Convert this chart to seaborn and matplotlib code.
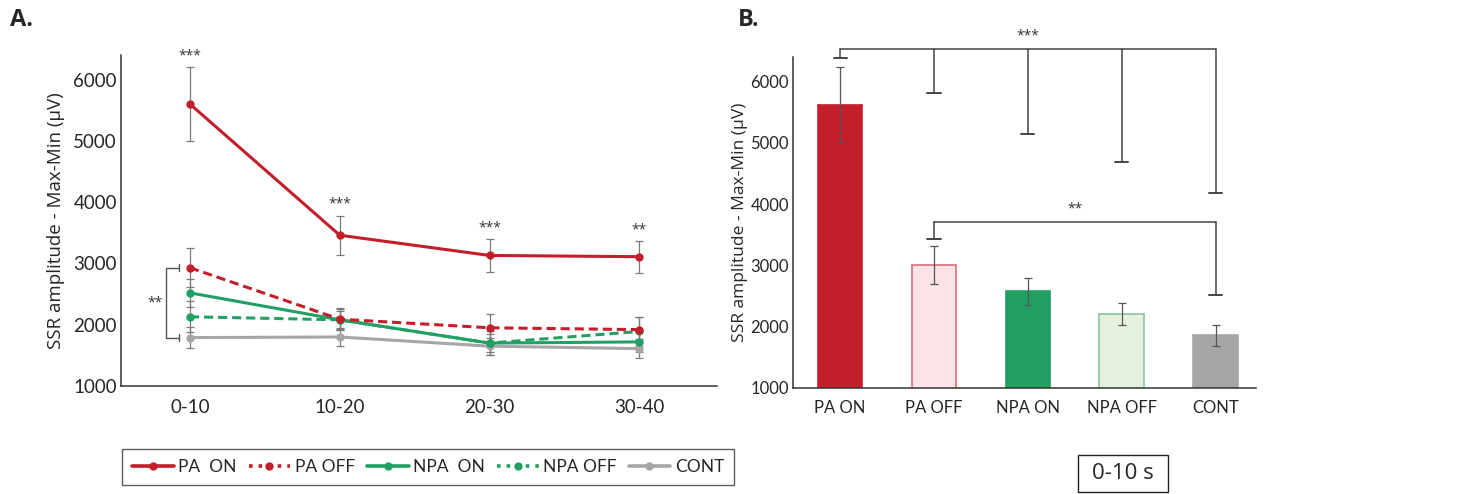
import matplotlib
matplotlib.use("Agg")
from matplotlib import pyplot as plt
from matplotlib.lines import Line2D
from matplotlib.patches import Rectangle
import seaborn as sns
import pandas as pd
import numpy as np

# time windows (s) and groups
windows = ["0-10", "10-20", "20-30", "30-40"]
groups = ["PA ON", "PA OFF", "NPA ON", "NPA OFF", "CONT"]
legend_names = ["PA  ON", "PA OFF", "NPA  ON", "NPA OFF", "CONT"]

# panel A: mean SSR amplitude per window
pa_on = [5600, 3460, 3130, 3110]
pa_off = [2930, 2090, 1950, 1920]
npa_on = [2520, 2080, 1700, 1720]
npa_off = [2130, 2080, 1700, 1890]
cont = [1790, 1800, 1650, 1610]

pa_on_err = [600, 320, 270, 260]
pa_off_err = [320, 180, 230, 200]
npa_on_err = [230, 150, 150, 160]
npa_off_err = [250, 170, 200, 230]
cont_err = [170, 150, 140, 160]

stars_a = ["***", "***", "***", "**"]

# panel B: 0-10 s window
bar_means = [5620, 3000, 2580, 2210, 1860]
bar_err = [620, 310, 220, 180, 170]

red = "#c21f2a"
green = "#22a063"
grey = "#a6a6a6"
line_colors = {"PA ON": red, "PA OFF": red, "NPA ON": green, "NPA OFF": green, "CONT": grey}
bar_faces = {"PA ON": red, "PA OFF": "#fbe3e7", "NPA ON": green, "NPA OFF": "#e6f1dd", "CONT": grey}
bar_edges = {"PA ON": red, "PA OFF": "#d8707e", "NPA ON": green, "NPA OFF": "#86c7a0", "CONT": grey}

sns.set_style("white")
plt.rcParams['font.family'] = ['Open Sans', 'DejaVu Sans']
lato = ['Lato', 'DejaVu Sans']

fig = plt.figure(figsize=(14.58, 4.94), dpi=100)
ax1 = fig.add_axes([0.083, 0.2186, 0.409, 0.670])
ax2 = fig.add_axes([0.544, 0.2146, 0.3175, 0.670])

# ---------- panel A ----------
series = [pa_on, pa_off, npa_on, npa_off, cont]
errs = [pa_on_err, pa_off_err, npa_on_err, npa_off_err, cont_err]
df_a = pd.DataFrame({
    "window": windows * len(groups),
    "group": np.repeat(groups, len(windows)),
    "amp": np.concatenate(series),
})
dashes = {"PA ON": "", "PA OFF": (3, 1.6), "NPA ON": "", "NPA OFF": (3, 1.6), "CONT": ""}
sns.lineplot(data=df_a, x="window", y="amp", hue="group", style="group",
             hue_order=groups[::-1], style_order=groups[::-1],
             palette=line_colors, dashes=dashes, markers={g: "o" for g in groups},
             markersize=6, markeredgewidth=0, linewidth=2.2, sort=False,
             legend=False, ax=ax1)
for g, vals, e in zip(groups, series, errs):
    ax1.errorbar(range(len(windows)), vals, yerr=e, fmt="none", ecolor="#7a7a7a",
                 elinewidth=0.9, capsize=3, capthick=0.9, zorder=1)

for i, s in enumerate(stars_a):
    ax1.text(i, pa_on[i] + pa_on_err[i] + 60, s, ha="center", va="bottom",
             fontsize=10, color="#333333")

# bracket PA OFF vs CONT at 0-10
bx0, bx1 = -0.16, -0.07
ax1.plot([bx1, bx0, bx0, bx1], [pa_off[0], pa_off[0], cont[0], cont[0]],
         color="#555555", lw=1, clip_on=False)
ax1.plot([bx1, bx1], [pa_off[0] - 60, pa_off[0] + 60], color="#555555", lw=1)
ax1.plot([bx1, bx1], [cont[0] - 60, cont[0] + 60], color="#555555", lw=1)
ax1.text(-0.23, 2360, "**", ha="center", va="center", fontsize=10, color="#333333")

ax1.set_xlim(-0.46, 3.52)
ax1.set_ylim(1000, 6400)
ax1.set_yticks([1000, 2000, 3000, 4000, 5000, 6000])
ax1.set_xlabel("")
ax1.set_ylabel("SSR amplitude - Max-Min (\u00b5V)", fontsize=13.5, labelpad=6)
sns.despine(ax=ax1)
ax1.tick_params(axis="y", length=0, pad=3)
ax1.tick_params(axis="x", length=0, pad=9)
for lab in ax1.get_xticklabels() + ax1.get_yticklabels():
    lab.set_family(lato)
    lab.set_fontsize(13.5)

# ---------- panel B ----------
sns.barplot(x=groups, y=bar_means, hue=groups, palette=bar_faces, width=0.475,
            legend=False, ax=ax2)
bars = sorted(ax2.patches, key=lambda p: p.get_x())
for p, g in zip(bars, groups):
    p.set_facecolor(bar_faces[g])
    p.set_edgecolor(bar_edges[g])
    p.set_linewidth(1.2)
ax2.errorbar(range(len(groups)), bar_means, yerr=bar_err, fmt="none",
             ecolor="#555555", elinewidth=0.9, capsize=3, capthick=0.9)

# significance brackets
top_level = 6530
top_ends = [6380, 5820, 5150, 4690, 4180]
ax2.plot([0, len(groups) - 1], [top_level, top_level], color="#444444", lw=1.1, clip_on=False)
for i, yb in enumerate(top_ends):
    ax2.plot([i, i], [top_level, yb], color="#444444", lw=1.1, clip_on=False)
    ax2.plot([i - 0.07, i + 0.07], [yb, yb], color="#444444", lw=1.4, clip_on=False)
ax2.text(2.0, top_level + 90, "***", ha="center", va="bottom", fontsize=10, color="#333333")

mid_level = 3700
mid_ends = {1: 3430, 4: 2510}
ax2.plot([1, 4], [mid_level, mid_level], color="#444444", lw=1.1)
for i, yb in mid_ends.items():
    ax2.plot([i, i], [mid_level, yb], color="#444444", lw=1.1)
    ax2.plot([i - 0.07, i + 0.07], [yb, yb], color="#444444", lw=1.4)
ax2.text(2.5, mid_level + 90, "**", ha="center", va="bottom", fontsize=10, color="#333333")

ax2.set_xlim(-0.5, 4.43)
ax2.set_ylim(1000, 6400)
ax2.set_yticks([1000, 2000, 3000, 4000, 5000, 6000])
ax2.set_ylabel("SSR amplitude - Max-Min (\u00b5V)", fontsize=12.5, labelpad=2)
sns.despine(ax=ax2)
ax2.tick_params(axis="y", length=0, pad=3)
ax2.tick_params(axis="x", length=0, pad=9)
for lab in ax2.get_xticklabels() + ax2.get_yticklabels():
    lab.set_family(lato)
    lab.set_fontsize(12)

for ax in (ax1, ax2):
    for side in ("left", "bottom"):
        ax.spines[side].set_color("#333333")
        ax.spines[side].set_linewidth(1.1)

# legend below panel A
handles = []
for g in groups:
    ls = ":" if "OFF" in g else "-"
    handles.append(Line2D([], [], color=line_colors[g], lw=2.6, ls=ls,
                          marker="o", markersize=6, markeredgewidth=0))
fig.legend(handles, legend_names, loc="center", ncol=5,
           bbox_to_anchor=(428 / 1458, 1 - 467 / 494),
           frameon=True, fancybox=False, edgecolor="#333333",
           prop={'family': lato, 'size': 12.5},
           handlelength=2.4, handletextpad=0.25, columnspacing=0.7, borderpad=0.6)

# window label box under panel B
fig.patches.append(Rectangle((1078 / 1458, 2 / 494), 90 / 1458, 37 / 494,
                             transform=fig.transFigure, fill=False,
                             edgecolor="#222222", lw=1))
fig.text(1123 / 1458, 1 - 473 / 494, "0-10 s", ha="center", va="center", fontsize=16)

fig.text(10 / 1458, 1 - 20 / 494, "A.", ha="left", va="center", fontsize=17, fontweight="bold")
fig.text(738 / 1458, 1 - 20 / 494, "B.", ha="left", va="center", fontsize=17, fontweight="bold")

fig.savefig("out.png", dpi=100)
